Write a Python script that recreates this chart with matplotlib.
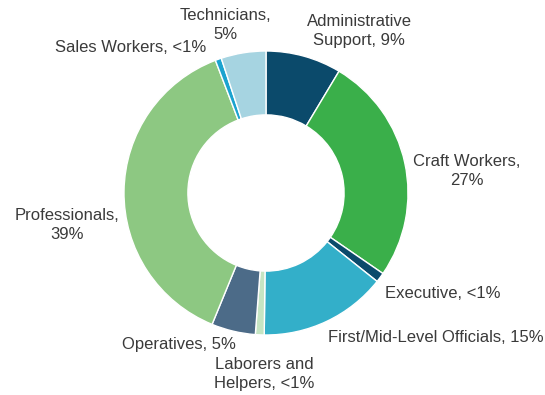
import matplotlib
matplotlib.use("Agg")
import matplotlib.pyplot as plt

# Data (clockwise from 12 o'clock)
categories = ["Administrative Support", "Craft Workers", "Executive",
              "First/Mid-Level Officials", "Laborers and Helpers", "Operatives",
              "Professionals", "Sales Workers", "Technicians"]
values = [8.6, 26.0, 1.1, 14.5, 1.0, 5.0, 38.0, 0.7, 5.1]
label_texts = ["Administrative\nSupport, 9%", "Craft Workers,\n27%", "Executive, <1%",
               "First/Mid-Level Officials, 15%", "Laborers and\nHelpers, <1%",
               "Operatives, 5%", "Professionals,\n39%", "Sales Workers, <1%",
               "Technicians,\n5%"]
colors = ["#0b4a6b", "#3aaf4a", "#0b4a6b", "#33afc9", "#c5e5c3",
          "#4c6b88", "#8dc882", "#1ba3cf", "#a6d4e1"]

W, H = 545, 395
fig = plt.figure(figsize=(W / 100, H / 100), dpi=100)
ax = fig.add_axes([0, 0, 1, 1])

cx, cy, R = 266, H - 193, 142
ax.pie(values, colors=colors, startangle=90, counterclock=False,
       center=(cx, cy), radius=R, frame=True,
       wedgeprops=dict(width=R * 0.45, edgecolor="white", linewidth=1.0))
ax.set_xlim(0, W)
ax.set_ylim(0, H)
ax.set_aspect("equal")
ax.axis("off")

# label positions in pixel coordinates (x, y from top)
label_pos = [(359, 31), (467, 171), (443, 294), (436, 338), (264, 374),
             (179, 345), (67, 225), (131, 48), (225, 25)]
for txt, (px, py) in zip(label_texts, label_pos):
    ax.text(px, H - py, txt, ha="center", va="center", multialignment="center",
            fontsize=12, color="#3a3a3a", family=["Liberation Sans", "DejaVu Sans"],
            linespacing=1.35)

fig.savefig("out.png", dpi=100)
